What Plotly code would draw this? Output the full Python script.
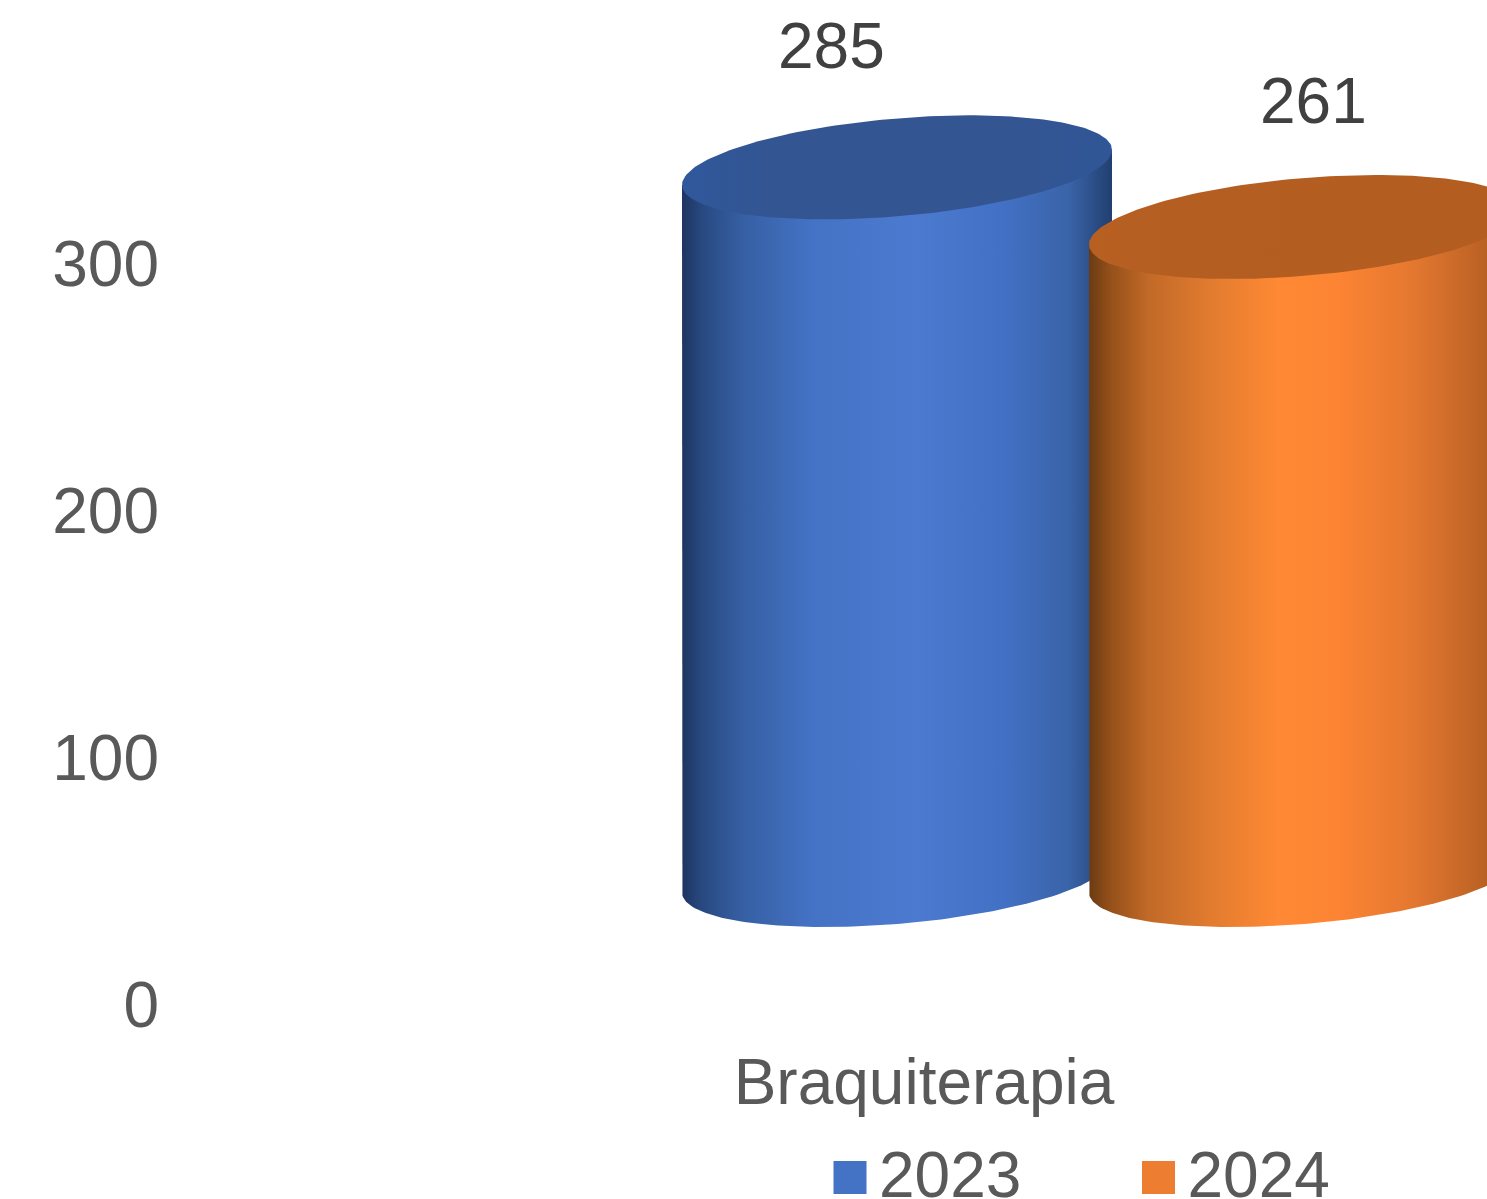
import numpy as np
import plotly.graph_objects as go

# ---- data ----
categories = ["Braquiterapia"]
series_names = ["2023", "2024"]
values_2023 = [285]
values_2024 = [261]
y_ticks = [0, 100, 200, 300]

# ---- styles ----
FONT = "Liberation Sans"
FS = 64
BLUE_SIDE = [[0, "#1E3560"], [0.05, "#284A82"], [0.14, "#365FA3"], [0.3, "#4472C4"],
             [0.54, "#4B7AD0"], [0.75, "#4270C4"], [0.9, "#3A64A8"], [1, "#213F70"]]
BLUE_TOP = [[0, "#30589C"], [0.2, "#335592"], [0.8, "#335592"], [1, "#305697"]]
ORANGE_SIDE = [[0, "#6A3B14"], [0.05, "#955019"], [0.14, "#C26A28"], [0.3, "#E57D30"],
               [0.44, "#FF8934"], [0.58, "#FC8433"], [0.75, "#E57830"], [0.93, "#B86024"],
               [1, "#8E5018"]]
ORANGE_TOP = [[0, "#B86022"], [0.2, "#B45E22"], [1, "#B35D21"]]
LEGEND_COLORS = ["#4472C4", "#ED7D31"]

# ---- cylinder geometry, in axis units ----
PX = 2.473          # pixels per value unit
ZERO_PX = 1005      # pixel row of the value axis zero
PAGE_H = 1199
DEPTH = 1.004
FLOOR = (ZERO_PX - 875) / PX   # base centre height given by the 3-D floor offset
RX = 215
SHEAR = 17.5 / PX
RY = 49 / PX
CATEGORY_X = 924
OFFSETS = [-27, 380]
LABEL_DX = [-66, 9]
LABEL_DY = [121 / PX, 125.5 / PX]
LEFT = 172
X_RANGE = [LEFT, 1487]

fig = go.Figure()
t_lower = np.linspace(np.pi, 2 * np.pi, 100)
t_full = np.linspace(0, 2 * np.pi, 200)
annots = []

def ell(cx, cy, t):
    return cx + RX * np.cos(t), cy + SHEAR * np.cos(t) + RY * np.sin(t)

for val, off, side, top, dx, dy in zip(
        [values_2023[0], values_2024[0]], OFFSETS, [BLUE_SIDE, ORANGE_SIDE], [BLUE_TOP, ORANGE_TOP],
        LABEL_DX, LABEL_DY):
    cx = CATEGORY_X + off
    cy_top = FLOOR + val * DEPTH
    bx, by = ell(cx, FLOOR, t_lower)
    lx, ly = ell(cx, cy_top, np.array([np.pi]))
    rx, ry = ell(cx, cy_top, np.array([2 * np.pi]))
    xs = np.concatenate([lx, bx, rx, lx])
    ys = np.concatenate([ly, by, ry, ly])
    fig.add_trace(go.Scatter(x=xs, y=ys, mode="lines", line=dict(width=0), fill="toself",
                             fillgradient=dict(type="horizontal", colorscale=side,
                                               start=cx - RX, stop=cx + RX),
                             hoverinfo="skip", showlegend=False))
    tx, ty = ell(cx, cy_top, t_full)
    fig.add_trace(go.Scatter(x=tx, y=ty, mode="lines", line=dict(width=0), fill="toself",
                             fillgradient=dict(type="horizontal", colorscale=top,
                                               start=cx - RX, stop=cx + RX),
                             hoverinfo="skip", showlegend=False))
    annots.append(dict(x=cx + dx, y=cy_top + dy, xref="x", yref="y", text=str(val), showarrow=False,
                       xanchor="center", yanchor="middle",
                       font=dict(family=FONT, size=FS, color="#404040")))

# legend: big square markers in their own hidden strip at the page bottom
LEG_X = [850, 1158.5]
LEG_TEXT_GAP = 29
LEG_BAND = 43 / PAGE_H
LEG_TEXT_Y = 0.41
for name, lx, col in zip(series_names, LEG_X, LEGEND_COLORS):
    fig.add_trace(go.Scatter(x=[lx], y=[0.5], xaxis="x2", yaxis="y2", mode="markers",
                             marker=dict(symbol="square", size=33, color=col),
                             hoverinfo="skip", showlegend=False))
    fig.add_trace(go.Scatter(x=[lx + LEG_TEXT_GAP], y=[LEG_TEXT_Y], xaxis="x2", yaxis="y2",
                             mode="text", text=[name], textposition="middle right",
                             cliponaxis=False,
                             textfont=dict(family=FONT, size=FS, color="#595959"),
                             hoverinfo="skip", showlegend=False))

fig.update_layout(
    width=1487, height=PAGE_H,
    margin=dict(l=LEFT, r=0, t=0, b=0, pad=0, autoexpand=False),
    paper_bgcolor="white", plot_bgcolor="white",
    annotations=annots, showlegend=False,
    xaxis=dict(range=X_RANGE, tickvals=[CATEGORY_X], ticktext=categories, showgrid=False,
               zeroline=False, showline=False, ticks="outside", ticklen=21, automargin=False,
               tickcolor="rgba(0,0,0,0)",
               tickfont=dict(family=FONT, size=FS, color="#595959")),
    yaxis=dict(domain=[(PAGE_H - ZERO_PX) / PAGE_H, 1], range=[0, ZERO_PX / PX], tickvals=y_ticks,
               showgrid=False, zeroline=False, showline=False, ticks="", automargin=False,
               ticklabelstandoff=12,
               tickfont=dict(family=FONT, size=FS, color="#595959")),
    xaxis2=dict(range=X_RANGE, anchor="y2", visible=False, automargin=False),
    yaxis2=dict(domain=[0, LEG_BAND], range=[0, 1], anchor="x2", visible=False, automargin=False),
)
fig.write_html("out.html", config=dict(displayModeBar=False),
               post_script="document.body.style.margin='0';document.body.style.overflow='hidden';")
